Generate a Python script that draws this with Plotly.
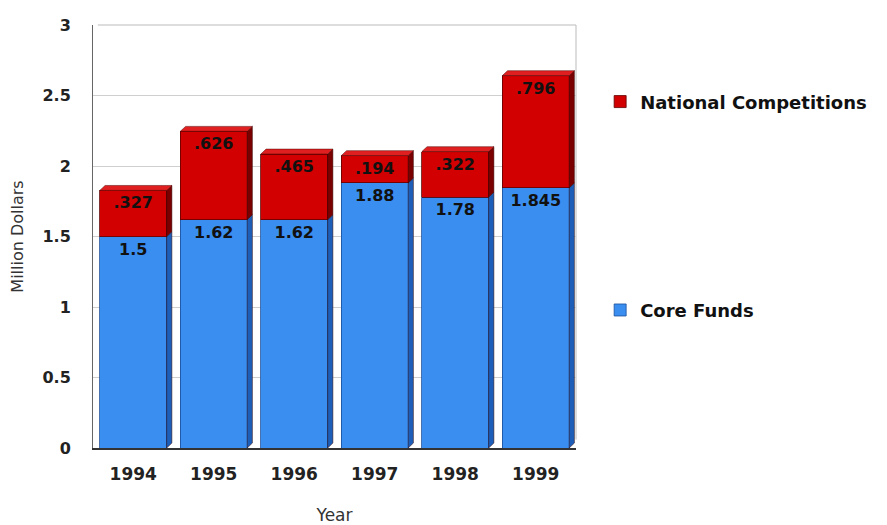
import plotly.graph_objects as go

years = ["1994", "1995", "1996", "1997", "1998", "1999"]
core_funds = [1.5, 1.62, 1.62, 1.88, 1.78, 1.845]
national_comp = [0.327, 0.626, 0.465, 0.194, 0.322, 0.796]

def lab(v):
    s = f"{v:g}"
    return s[1:] if s.startswith("0.") else s

BLUE = "#3a8ef0"
BLUE_SIDE = "#1d5fb8"
RED = "#d20000"
RED_SIDE = "#7a0000"
RED_TOP = "#e02020"
FONT = "DejaVu Sans, Verdana, sans-serif"

fig = go.Figure()
fig.add_trace(go.Bar(
    x=years, y=core_funds, name="Core Funds",
    marker=dict(color=BLUE, line=dict(color="#1a4f9a", width=0.8)),
    text=[lab(v) for v in core_funds], textposition="inside",
    insidetextanchor="end",
    textfont=dict(family=FONT, size=16, color="#111", weight="bold"),
    legendgroup="core", legendrank=2,
))
fig.add_trace(go.Bar(
    x=years, y=national_comp, name="National Competitions",
    marker=dict(color=RED, line=dict(color="#600000", width=0.8)),
    text=[lab(v) for v in national_comp], textposition="inside",
    insidetextanchor="end",
    textfont=dict(family=FONT, size=16, color="#111", weight="bold"),
    legendgroup="comp", legendrank=1,
))

# 3D side and top faces derived from data
w = 0.83 / 2
dx, dy = 0.065, 0.035
shapes = []
for i, (c, n) in enumerate(zip(core_funds, national_comp)):
    xr = i + w
    for (y0, y1, col) in [(0, c, BLUE_SIDE), (c, c + n, RED_SIDE)]:
        shapes.append(dict(type="path", xref="x", yref="y",
                           path=f"M {xr},{y0} L {xr+dx},{y0+dy} L {xr+dx},{y1+dy} L {xr},{y1} Z",
                           fillcolor=col, line=dict(width=0.5, color="#300")))
    top = c + n
    shapes.append(dict(type="path", xref="x", yref="y",
                       path=f"M {i-w},{top} L {i-w+dx},{top+dy} L {xr+dx},{top+dy} L {xr},{top} Z",
                       fillcolor=RED_TOP, line=dict(width=0.5, color="#500")))
# back-wall frame
shapes.append(dict(type="line", xref="paper", yref="paper", x0=0.01, x1=1, y0=1.0, y1=1.0,
                   line=dict(color="#bbbbbb", width=1), layer="below"))
shapes.append(dict(type="line", xref="paper", yref="paper", x0=1, x1=1, y0=0.02, y1=1.0,
                   line=dict(color="#bbbbbb", width=1), layer="below"))

fig.update_layout(
    width=887, height=525,
    margin=dict(l=93, r=311, t=25, b=77),
    barmode="stack", bargap=0.17,
    plot_bgcolor="white", paper_bgcolor="white",
    font=dict(family=FONT, color="#222"),
    shapes=shapes,
    showlegend=True,
    legend=dict(x=1.05, y=0.862, xanchor="left", yanchor="top",
                tracegroupgap=182, bgcolor="rgba(0,0,0,0)",
                font=dict(family=FONT, size=18, color="#111", weight="bold")),
    xaxis=dict(
        showline=True, linecolor="#333", linewidth=1.5,
        tickfont=dict(family=FONT, size=17, color="#222", weight="bold"),
        ticks="", range=[-0.5, 5.5], automargin=False, ticklabelstandoff=10,
        title=dict(text="Year", font=dict(family=FONT, size=17, color="#333"), standoff=26),
    ),
    yaxis=dict(
        range=[0, 3], dtick=0.5,
        showline=True, linecolor="#666", linewidth=1,
        showgrid=True, gridcolor="#cfcfcf", gridwidth=1,
        zeroline=False, automargin=False,
        tickfont=dict(family=FONT, size=16, color="#222", weight="bold"),
        ticks="", ticklabelstandoff=18,
        title=dict(text="Million Dollars", font=dict(family=FONT, size=16, color="#333"), standoff=14),
    ),
)

fig.write_html("out.html")
